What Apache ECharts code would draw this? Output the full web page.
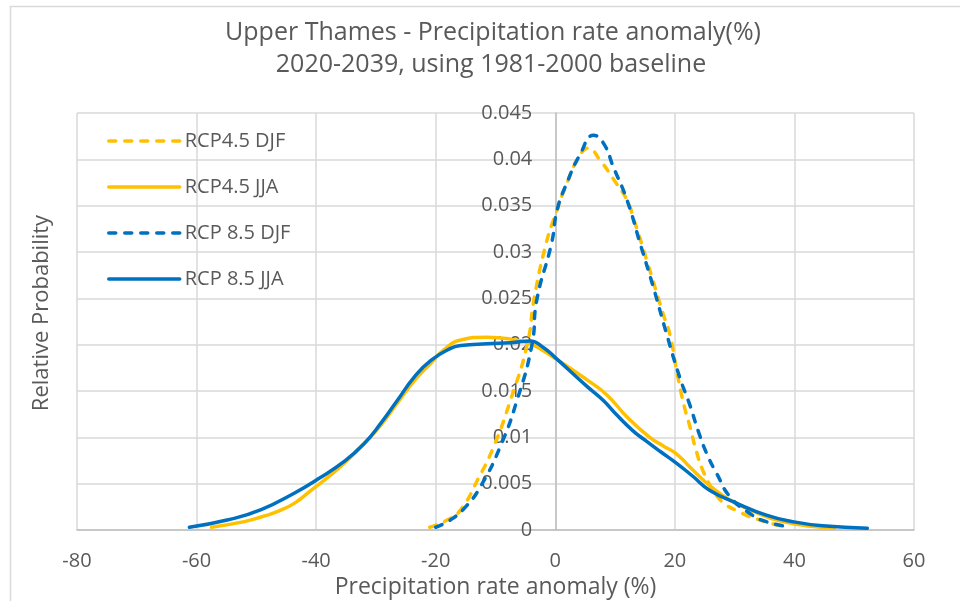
<!DOCTYPE html>
<html>
<head>
<meta charset="utf-8">
<script src="https://cdn.jsdelivr.net/npm/echarts@6/dist/echarts.min.js"></script>
<style>
  html, body { margin: 0; padding: 0; background: #fff; }
  #chart { width: 960px; height: 601px; }
</style>
</head>
<body>
<div id="chart"></div>
<script>
// series names, in legend order
const seriesNames = ['RCP4.5 DJF', 'RCP4.5 JJA', 'RCP 8.5 DJF', 'RCP 8.5 JJA'];

// RCP4.5 DJF (yellow dashed)
const djf45X = [-21, -18, -15.8, -13, -10.3, -7.5, -4.7, -3.5, -1.5, 0, 2, 4, 5.5, 7.5, 10, 12, 13.2, 15.3, 18, 19.2, 20.3, 21.4, 22.5, 23.6, 24.7, 26.4, 28, 30.3, 33.6, 38];
const djf45Y = [0.0003, 0.0011, 0.0022, 0.0054, 0.009, 0.014, 0.020, 0.0251, 0.031, 0.034, 0.0375, 0.0403, 0.0412, 0.0399, 0.0376, 0.0356, 0.0334, 0.0291, 0.0234, 0.021, 0.0172, 0.0138, 0.0112, 0.0085, 0.0064, 0.0043, 0.003, 0.0021, 0.0012, 0.0004];

// RCP4.5 JJA (yellow solid)
const jja45X = [-57.5, -52, -49.2, -46.4, -43.6, -40.8, -38, -35.3, -32, -29.2, -26.4, -23.6, -20.8, -18.7, -15.8, -11.4, -7.5, -4.2, 0, 5.3, 8.6, 12, 15.8, 18, 20.3, 22.5, 25.8, 29, 32.5, 38, 46.7];
const jja45Y = [0.0003, 0.0009, 0.0014, 0.002, 0.0029, 0.0043, 0.0057, 0.0072, 0.0093, 0.0113, 0.0137, 0.0161, 0.018, 0.0194, 0.0205, 0.0208, 0.0206, 0.0201, 0.0185, 0.0162, 0.0146, 0.0122, 0.0100, 0.0091, 0.0082, 0.0068, 0.0048, 0.0033, 0.0022, 0.0009, 0.0002];

// RCP 8.5 DJF (blue dashed)
const djf85X = [-20, -17.5, -15, -12.5, -9.2, -6.4, -3.9, -3.1, -0.6, 0.3, 1.9, 4.2, 6.4, 8.1, 9.7, 12, 14.2, 16.4, 18.6, 20.8, 22.5, 24, 25.5, 27, 29.2, 32.5, 35.3, 39.4];
const djf85Y = [0.0003, 0.0011, 0.0025, 0.0047, 0.009, 0.014, 0.020, 0.0248, 0.031, 0.0345, 0.0374, 0.0406, 0.0426, 0.0417, 0.0392, 0.0356, 0.0309, 0.0262, 0.0212, 0.0165, 0.0135, 0.0105, 0.008, 0.0061, 0.0036, 0.0018, 0.0009, 0.0003];

// RCP 8.5 JJA (blue solid)
const jja85X = [-61.2, -54.7, -49.2, -43.6, -39.7, -35.3, -32, -29.2, -26.4, -23.6, -20.8, -17.5, -15.8, -11.4, -7.5, -4.2, -2, 0, 5.3, 8, 10.3, 13, 15, 17.5, 20.3, 23, 25.8, 30.3, 35.3, 39.7, 44.7, 52.2];
const jja85Y = [0.0003, 0.0011, 0.0022, 0.004, 0.0055, 0.0074, 0.0093, 0.0115, 0.014, 0.0165, 0.0183, 0.0196, 0.0199, 0.0201, 0.0202, 0.0204, 0.0197, 0.0186, 0.0155, 0.0140, 0.0124, 0.0107, 0.0097, 0.0085, 0.0072, 0.0058, 0.0043, 0.0029, 0.0016, 0.0009, 0.00045, 0.0002];

const yellow = '#FFC000';
const blue = '#0070C0';
const textColor = '#595959';
const font = '"Open Sans", "Noto Sans", sans-serif';

function pairs(xs, ys) {
  return xs.map((x, i) => [x, ys[i]]);
}

function makeSeries(name, xs, ys, color, dashed) {
  return {
    name: name,
    type: 'line',
    data: pairs(xs, ys),
    smooth: 0.5,
    symbol: 'none',
    lineStyle: {
      color: color,
      width: 3.5,
      type: dashed ? [7, 9] : 'solid',
      cap: 'round'
    },
    itemStyle: { color: color }
  };
}

const myChart = echarts.init(document.getElementById('chart'));

const option = {
  animation: false,
  textStyle: { fontFamily: font },
  graphic: [
    {
      type: 'rect',
      shape: { x: 10.5, y: 6.5, width: 1000, height: 1000 },
      style: { fill: 'none', stroke: '#d9d9d9', lineWidth: 1.5 },
      silent: true
    },
    {
      type: 'text', x: 493, y: 33,
      style: { text: 'Upper Thames - Precipitation rate anomaly(%)', fill: textColor, font: '25px ' + font, textAlign: 'center', textVerticalAlign: 'middle' }
    },
    {
      type: 'text', x: 491, y: 65,
      style: { text: '2020-2039, using 1981-2000 baseline', fill: textColor, font: '25px ' + font, textAlign: 'center', textVerticalAlign: 'middle' }
    },
    {
      type: 'text', x: 42, y: 313, rotation: Math.PI / 2,
      style: { text: 'Relative Probability', fill: textColor, font: '22px ' + font, textAlign: 'center', textVerticalAlign: 'middle' }
    }
  ],
  legend: {
    orient: 'vertical',
    left: 102,
    top: 126,
    itemWidth: 71,
    itemHeight: 20,
    itemGap: 26,
    data: seriesNames,
    lineStyle: { width: 3.5 },
    itemStyle: { opacity: 0, color: 'transparent', borderWidth: 0 },
    textStyle: { fontSize: 20, color: textColor, fontFamily: font }
  },
  grid: { left: 77, right: 46, top: 113, bottom: 71, containLabel: false, outerBoundsMode: 'none' },
  xAxis: {
    type: 'value',
    min: -80,
    max: 60,
    interval: 20,
    name: 'Precipitation rate anomaly (%)',
    nameLocation: 'middle',
    nameGap: 37,
    nameTextStyle: { fontSize: 23, color: textColor, fontFamily: font },
    axisLine: { onZero: false, lineStyle: { color: '#bfbfbf', width: 1.5 } },
    axisTick: { show: false },
    axisLabel: { fontSize: 20, color: textColor, margin: 21 },
    splitLine: { lineStyle: { color: '#d9d9d9', width: 1.5 } }
  },
  yAxis: {
    type: 'value',
    min: 0,
    max: 0.045,
    interval: 0.005,
    position: 'left',
    offset: 0,
    axisLine: { show: true, onZero: false, lineStyle: { color: '#bfbfbf', width: 1.5 } },
    axisTick: { show: false },
    axisLabel: { fontSize: 20, color: textColor, margin: 23 },
    splitLine: { lineStyle: { color: '#d9d9d9', width: 1.5 } }
  },
  series: [
    makeSeries(seriesNames[0], djf45X, djf45Y, yellow, true),
    makeSeries(seriesNames[1], jja45X, jja45Y, yellow, false),
    makeSeries(seriesNames[2], djf85X, djf85Y, blue, true),
    makeSeries(seriesNames[3], jja85X, jja85Y, blue, false)
  ]
};

myChart.setOption(option);

// move the value axis so it crosses the x axis at 0
const zeroX = myChart.convertToPixel({ xAxisIndex: 0 }, 0);
const leftX = myChart.convertToPixel({ xAxisIndex: 0 }, -80);
myChart.setOption({ yAxis: { offset: leftX - zeroX } });
</script>
</body>
</html>
